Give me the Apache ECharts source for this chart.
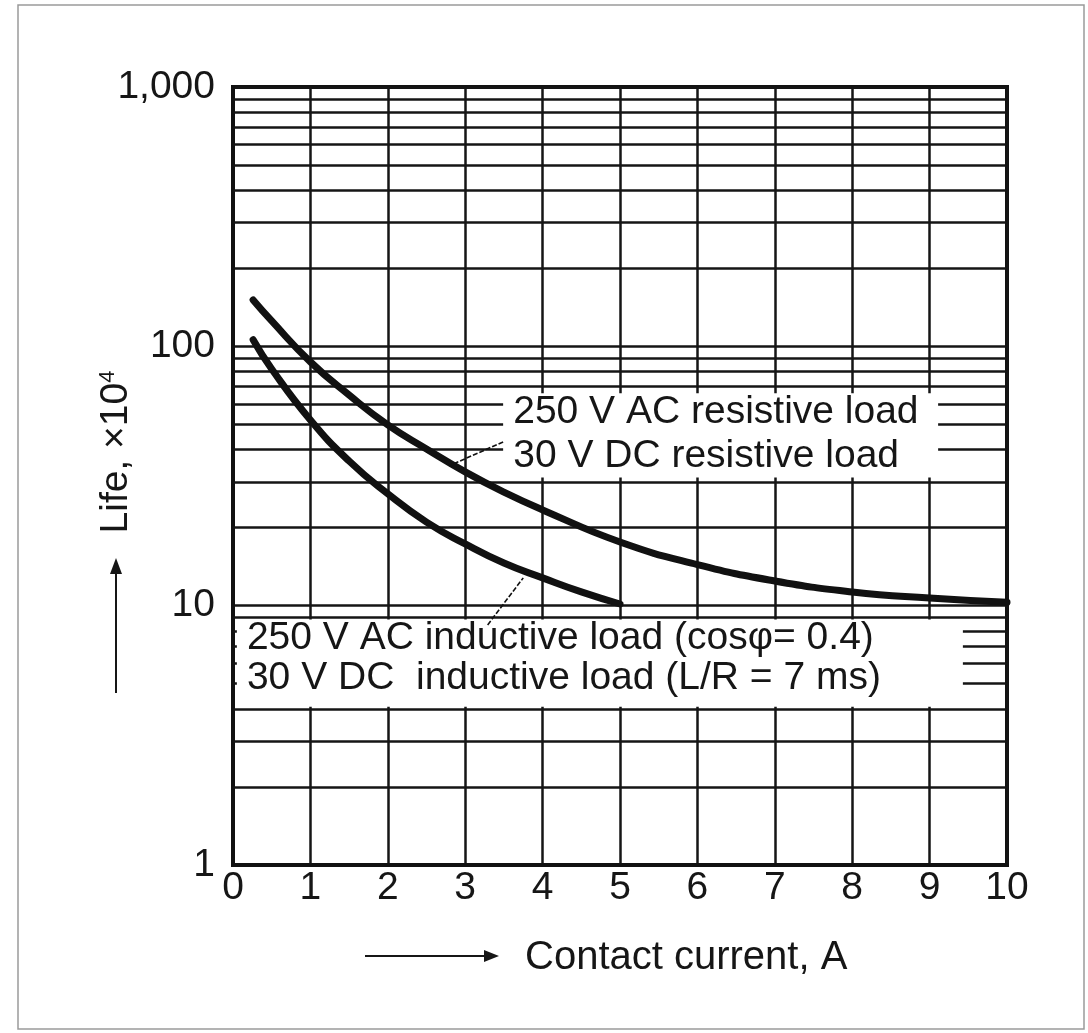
<!DOCTYPE html>
<html>
<head>
<meta charset="utf-8">
<script src="https://cdn.jsdelivr.net/npm/echarts@6/dist/echarts.min.js"></script>
<style>
html,body{margin:0;padding:0;background:#fff;}
#chart{width:1088px;height:1033px;}
</style>
</head>
<body>
<div id="chart"></div>
<script>
// ---- data ----
const xTicks = [0,1,2,3,4,5,6,7,8,9,10];
const yTicks = [1,10,100,1000];
const yTickLabels = {1:'1',10:'10',100:'100',1000:'1,000'};
const minorGrid = [2,3,4,5,6,7,8,9,20,30,40,50,60,70,80,90,200,300,400,500,600,700,800,900];
// resistive load curve (250 V AC / 30 V DC resistive)
const resistive = [[0.26,151],[0.5,125.3],[1,87.1],[1.5,64.9],[2,49.8],[2.5,40.2],[3,32.8],[3.5,27.4],[4,23.4],[5,17.6],[6,14.4],[7,12.45],[8,11.3],[9,10.7],[10,10.3]];
// inductive load curve
const inductive = [[0.26,106],[0.5,81.8],[1,52],[1.5,36.1],[2,27],[2.5,21],[3,17.3],[3.5,14.6],[4,12.8],[4.5,11.3],[5,10.15]];
// annotation boxes [x0, yTop, x1, yBottom] in data units
const labelBoxes = [[3.49,66,9.11,31.2],[0.05,8.85,9.43,4.08]];
// annotation texts [x, y, text]
const labelTexts = [
  [3.62,55.8,'250 V AC resistive load'],
  [3.62,37.8,'30 V DC resistive load'],
  [0.18,7.51,'250 V AC inductive load (cos\u03c6= 0.4)'],
  [0.18,5.26,'30 V DC  inductive load (L/R = 7 ms)']
];
// arrows [from, to]
const resArrow = [[3.49,42.8],[2.79,34.6]];
const indArrow = [[3.29,8.43],[3.75,12.8]];

const FONT = 'Liberation Sans, Arial, sans-serif';
const INK = '#161616';

const chart = echarts.init(document.getElementById('chart'));
chart.setOption({
  animation:false,
  backgroundColor:'#fff',
  grid:{left:233,right:81,top:87,bottom:168,show:true,borderColor:'#111',borderWidth:4,backgroundColor:'transparent'},
  xAxis:{
    type:'value',min:0,max:10,interval:1,
    axisLine:{show:true,lineStyle:{color:'#111',width:4}},
    axisTick:{show:false},
    axisLabel:{fontFamily:FONT,fontSize:39,color:INK,margin:4,
      formatter:v=>xTicks.indexOf(v)>=0?String(v):''},
    splitLine:{show:true,lineStyle:{color:'#151515',width:2.5}}
  },
  yAxis:{
    type:'log',logBase:10,min:1,max:1000,
    axisLine:{show:true,lineStyle:{color:'#111',width:4}},
    axisTick:{show:false},
    axisLabel:{fontFamily:FONT,fontSize:39,color:INK,margin:18,
      formatter:v=>yTickLabels[Math.round(v)]||''},
    splitLine:{show:true,lineStyle:{color:'#151515',width:2.5}}
  },
  graphic:[
    {type:'rect',shape:{x:18,y:5,width:1066,height:1024},style:{fill:'none',stroke:'#9a9a9a',lineWidth:1.5}},
    {type:'text',x:116,y:452,rotation:Math.PI/2,
      style:{rich:{a:{fontFamily:FONT,fontSize:39,fill:INK},s:{fontFamily:FONT,fontSize:22,fill:INK,verticalAlign:'top',padding:[0,0,16,0]}},
        text:'{a|Life, \u00d710}{s|4}',align:'center',verticalAlign:'middle',fill:INK}},
    {type:'line',shape:{x1:116,y1:693,x2:116,y2:570},style:{stroke:INK,lineWidth:2}},
    {type:'polygon',shape:{points:[[116,558],[110,574],[122,574]]},style:{fill:INK}},
    {type:'line',shape:{x1:365,y1:956,x2:486,y2:956},style:{stroke:INK,lineWidth:2}},
    {type:'polygon',shape:{points:[[499,956],[484,950],[484,962]]},style:{fill:INK}},
    {type:'text',x:525,y:958,style:{text:'Contact current, A',fontFamily:FONT,fontSize:40,fill:INK,align:'left',verticalAlign:'middle'}}
  ],
  series:[
    {
      name:'minorGrid',type:'line',data:[],z:1,silent:true,
      markLine:{silent:true,z:1,symbol:['none','none'],label:{show:false},animation:false,
        lineStyle:{color:'#151515',width:2.5,type:'solid'},
        data:minorGrid.map(v=>({yAxis:v}))}
    },
    {
      name:'boxes',type:'custom',z:3,silent:true,
      encode:{x:[0,2],y:[1,3]},
      data:labelBoxes,
      renderItem:function(params,api){
        const p0 = api.coord([api.value(0),api.value(1)]);
        const p1 = api.coord([api.value(2),api.value(3)]);
        return {type:'rect',shape:{x:p0[0],y:p0[1],width:p1[0]-p0[0],height:p1[1]-p0[1]},style:{fill:'#fff'}};
      }
    },
    {
      name:'texts',type:'custom',z:4,silent:true,
      encode:{x:0,y:1},
      data:labelTexts.map((t,i)=>[t[0],t[1],i]),
      renderItem:function(params,api){
        const p = api.coord([api.value(0),api.value(1)]);
        return {type:'text',x:p[0],y:p[1],style:{text:labelTexts[api.value(2)][2],fontFamily:FONT,fontSize:39,fill:INK,align:'left',verticalAlign:'middle'}};
      }
    },
    {
      name:'resistive',type:'line',data:resistive,smooth:0.5,symbol:'none',z:5,
      lineStyle:{color:'#111',width:7,cap:'round'},
      markLine:{silent:true,z:6,symbol:['none','arrow'],symbolSize:[0,16],label:{show:false},animation:false,
        lineStyle:{color:'#111',width:1.6,type:[5,2]},
        data:[[{coord:resArrow[0]},{coord:resArrow[1]}]]}
    },
    {
      name:'inductive',type:'line',data:inductive,smooth:0.5,symbol:'none',z:5,
      lineStyle:{color:'#111',width:7,cap:'round'},
      markLine:{silent:true,z:6,symbol:['none','arrow'],symbolSize:[0,16],label:{show:false},animation:false,
        lineStyle:{color:'#111',width:1.6,type:[5,2]},
        data:[[{coord:indArrow[0]},{coord:indArrow[1]}]]}
    }
  ]
});
</script>
</body>
</html>
